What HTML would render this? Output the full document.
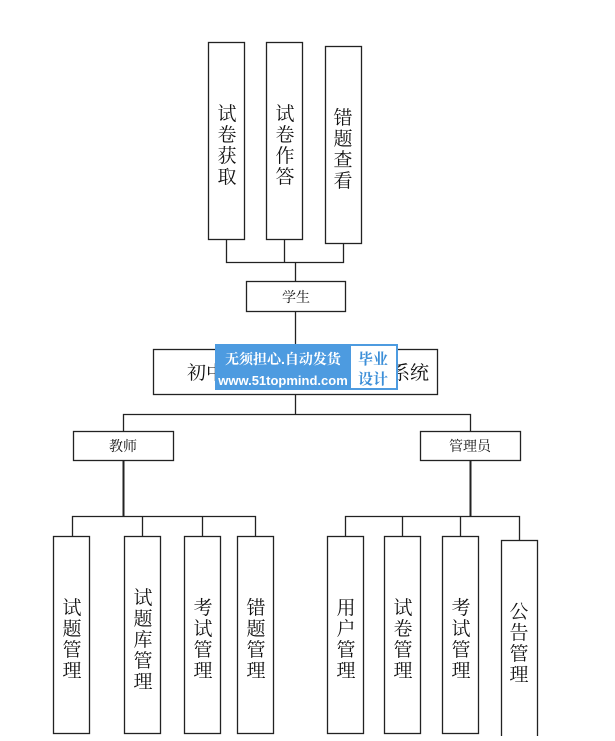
<!DOCTYPE html>
<html><head><meta charset="utf-8"><style>
body{margin:0;background:#fff;}
svg text{font-family:"Liberation Sans","Noto Serif CJK SC","Noto Sans CJK SC",serif;fill:#111;}
</style></head><body>
<svg width="615" height="736" xmlns="http://www.w3.org/2000/svg">
<g fill="#fff" stroke="#222" stroke-width="1.3">
<rect x="208.5" y="42.5" width="36" height="197"/>
<rect x="266.5" y="42.5" width="36" height="197"/>
<rect x="325.5" y="46.5" width="36" height="197"/>
<rect x="246.5" y="281.5" width="99" height="30"/>
<rect x="153.5" y="349.5" width="284" height="45"/>
<rect x="73.5" y="431.5" width="100" height="29"/>
<rect x="420.5" y="431.5" width="100" height="29"/>
<rect x="53.5" y="536.5" width="36" height="197"/>
<rect x="124.5" y="536.5" width="36" height="197"/>
<rect x="184.5" y="536.5" width="36" height="197"/>
<rect x="237.5" y="536.5" width="36" height="197"/>
<rect x="327.5" y="536.5" width="36" height="197"/>
<rect x="384.5" y="536.5" width="36" height="197"/>
<rect x="442.5" y="536.5" width="36" height="197"/>
<rect x="501.5" y="540.5" width="36" height="205"/>
</g>
<g fill="none" stroke="#222" stroke-width="1.3">
<path d="M226.5 240V262.5H343.5V244M284.5 240V262.5M295.5 262.5V281"/>
<path d="M295.5 312V349M295.5 395V414.5M123.5 431V414.5H470.5V431"/>
<path d="M72.5 536V516.5H255.5V536M142.5 516.5V536M202.5 516.5V536"/>
<path d="M345.5 536V516.5H519.5V540M402.5 516.5V536M460.5 516.5V536"/>
</g>
<g stroke="#222" stroke-width="2"><path d="M123.5 461V516M470.5 461V516"/></g>
<g font-size="19" text-anchor="middle">
<text x="227" y="120">试</text><text x="227" y="141">卷</text><text x="227" y="162">获</text><text x="227" y="183">取</text>
<text x="285" y="120">试</text><text x="285" y="141">卷</text><text x="285" y="162">作</text><text x="285" y="183">答</text>
<text x="343" y="124">错</text><text x="343" y="145">题</text><text x="343" y="166">查</text><text x="343" y="187">看</text>
<text x="72" y="614">试</text><text x="72" y="635">题</text><text x="72" y="656">管</text><text x="72" y="677">理</text>
<text x="143" y="604">试</text><text x="143" y="625">题</text><text x="143" y="646">库</text><text x="143" y="667">管</text><text x="143" y="688">理</text>
<text x="203" y="614">考</text><text x="203" y="635">试</text><text x="203" y="656">管</text><text x="203" y="677">理</text>
<text x="256" y="614">错</text><text x="256" y="635">题</text><text x="256" y="656">管</text><text x="256" y="677">理</text>
<text x="346" y="614">用</text><text x="346" y="635">户</text><text x="346" y="656">管</text><text x="346" y="677">理</text>
<text x="403" y="614">试</text><text x="403" y="635">卷</text><text x="403" y="656">管</text><text x="403" y="677">理</text>
<text x="461" y="614">考</text><text x="461" y="635">试</text><text x="461" y="656">管</text><text x="461" y="677">理</text>
<text x="519" y="618">公</text><text x="519" y="639">告</text><text x="519" y="660">管</text><text x="519" y="681">理</text>
<text x="206" y="379">初中</text><text x="410" y="379">系统</text>
</g>
<g font-size="14" text-anchor="middle">
<text x="296" y="302">学生</text>
<text x="123" y="451">教师</text>
<text x="470" y="451">管理员</text>
</g>
<rect x="215" y="344" width="183" height="46" fill="#4d9be0"/>
<rect x="351" y="346" width="45" height="42" fill="#fff"/>
<g font-family="'Liberation Sans','Noto Sans CJK SC',sans-serif" font-weight="bold">
<text x="283" y="364" font-size="14" text-anchor="middle" style="fill:#fff">无须担心.自动发货</text>
<text x="283" y="385" font-size="13" text-anchor="middle" style="fill:#fff">www.51topmind.com</text>
<text x="373" y="364" font-size="15" text-anchor="middle" style="fill:#3c8fd8">毕业</text>
<text x="373" y="384" font-size="15" text-anchor="middle" style="fill:#3c8fd8">设计</text>
</g>
</svg>
</body></html>
